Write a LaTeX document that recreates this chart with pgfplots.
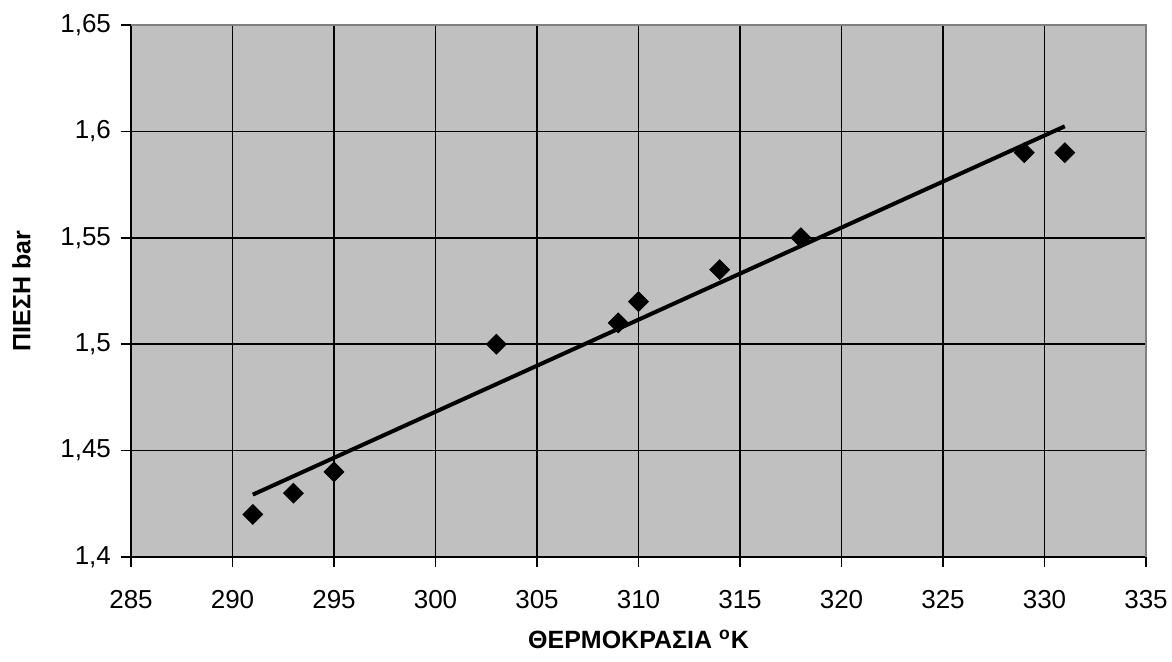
\documentclass[border=0pt]{standalone}
\usepackage{fontspec}
\setmainfont{Liberation Sans}
\usepackage{pgfplots}
\pgfplotsset{compat=1.18}
\definecolor{plotbg}{HTML}{C0C0C0}
\begin{document}
\begin{tikzpicture}
\path[use as bounding box] (-65.5pt,-52.5pt) rectangle (520.5pt,278.5pt);
\begin{axis}[
  scale only axis,
  width=507.5pt, height=266pt,
  xmin=285, xmax=335, ymin=1.4, ymax=1.65,
  xtick={285,290,...,335},
  ytick={1.4,1.45,1.5,1.55,1.6,1.65},
  yticklabels={{1,4},{1,45},{1,5},{1,55},{1,6},{1,65}},
  xticklabel style={font=\fontsize{13}{15}\selectfont, yshift=-8pt},
  yticklabel style={font=\fontsize{13}{15}\selectfont, xshift=-1.5pt},
  /pgf/number format/assume math mode=true,
  axis background/.style={fill=plotbg},
  grid=major,
  major grid style={black, line width=0.8pt},
  axis x line*=bottom, axis y line*=left,
  axis line style={black, line width=0.8pt},
  tick align=outside,
  major tick length=5pt,
  tick style={black, line width=0.8pt},
  xtick pos=bottom, ytick pos=left,
  xlabel={\bfseries ΘΕΡΜΟΚΡΑΣΙΑ \textsuperscript{o}K},
  ylabel={\bfseries ΠΙΕΣΗ bar},
  label style={font=\fontsize{12.5}{14}\selectfont},
  xlabel style={yshift=-4pt},
  ylabel style={yshift=8pt},
  clip=false,
]
\draw[gray, line width=0.8pt] (rel axis cs:0,1) -- (rel axis cs:1,1) -- (rel axis cs:1,0);
\addplot[only marks, mark=square*, mark size=3.5pt, mark options={rotate=45, fill=black, draw=black}]
  coordinates {
  (291,1.42) (293,1.43) (295,1.44) (303,1.50) (309,1.51)
  (310,1.52) (314,1.535) (318,1.55) (329,1.59) (331,1.59)
  };
\addplot[black, line width=2pt] coordinates {(291,1.4293) (331,1.6024)};
\end{axis}
\end{tikzpicture}
\end{document}
